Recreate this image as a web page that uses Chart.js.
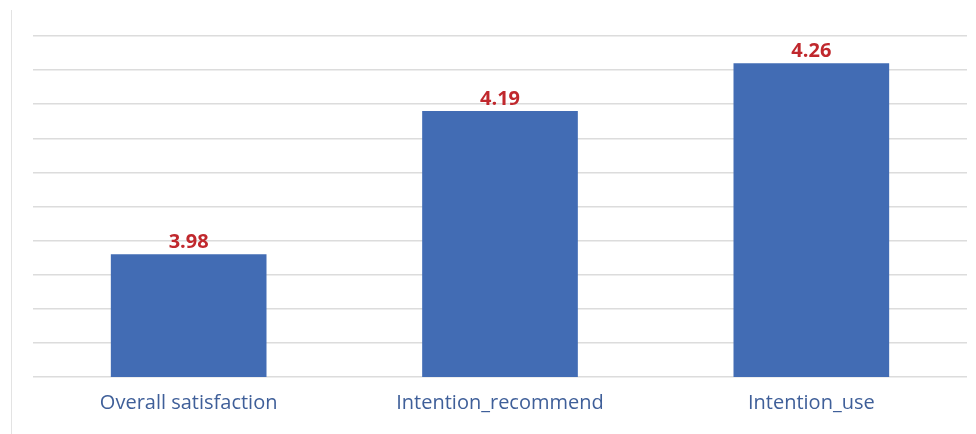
<!DOCTYPE html>
<html>
<head>
<meta charset="utf-8">
<script src="https://cdn.jsdelivr.net/npm/chart.js@4/dist/chart.umd.min.js"></script>
<style>
    html, body { margin: 0; padding: 0; background: #ffffff; }
    #wrap { position: relative; width: 976px; height: 434px; }
    #frame { position: absolute; left: 11px; top: 10px; bottom: 0; border-left: 1px solid #e3e3e3; }
    canvas { position: absolute; left: 0; top: 0; }
</style>
</head>
<body>
<div id="wrap">
    <div id="frame"></div>
    <canvas id="barChart" width="976" height="434"></canvas>
</div>
<script>
const categories = ["Overall satisfaction", "Intention_recommend", "Intention_use"];
const meanScores = [3.98, 4.19, 4.26];
const axisMin = 3.8;
const axisMax = 4.3;
const axisStep = 0.05;

// Wert über jedem Balken zeichnen
const valueLabels = {
    id: 'valueLabels',
    afterDatasetsDraw(chart) {
        const ctx = chart.ctx;
        const meta = chart.getDatasetMeta(0);
        ctx.save();
        ctx.font = 'bold 20px "Open Sans"';
        ctx.fillStyle = '#c0282d';
        ctx.textAlign = 'center';
        ctx.textBaseline = 'alphabetic';
        meta.data.forEach((bar, i) => {
            const value = chart.data.datasets[0].data[i];
            ctx.fillText(value.toFixed(2), bar.x, bar.y - 6);
        });
        ctx.restore();
    }
};

const config = {
    type: 'bar',
    data: {
        labels: categories,
        datasets: [{
            data: meanScores,
            backgroundColor: '#426cb4',
            borderWidth: 0,
            barPercentage: 0.5,
            categoryPercentage: 1.0
        }]
    },
    options: {
        responsive: false,
        animation: false,
        layout: { padding: { left: 33, right: 9, top: 36, bottom: 0 } },
        plugins: {
            legend: { display: false },
            tooltip: { enabled: false }
        },
        scales: {
            x: {
                grid: { display: false, drawTicks: false },
                border: { display: false },
                ticks: {
                    color: '#3f5f99',
                    font: { family: '"Open Sans"', size: 20 },
                    padding: 14
                },
                afterFit: s => { s.height = 57; }
            },
            y: {
                min: axisMin,
                max: axisMax,
                grid: { color: '#dcdcdc', lineWidth: 1.5, drawTicks: false },
                border: { display: false },
                ticks: { display: false, stepSize: axisStep },
                afterFit: s => { s.width = 0; }
            }
        }
    },
    plugins: [valueLabels]
};

new Chart(document.querySelector("#barChart"), config);
</script>
</body>
</html>
